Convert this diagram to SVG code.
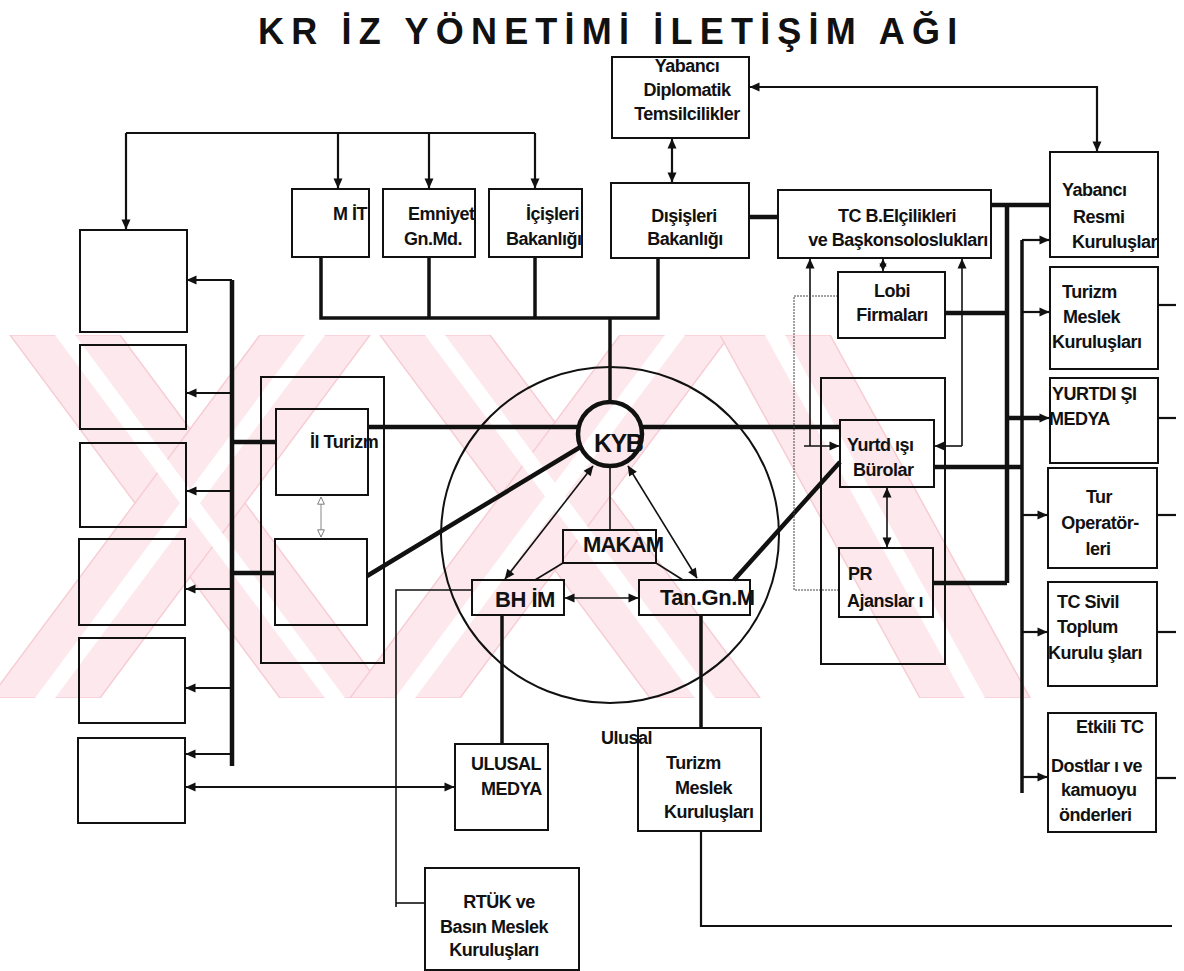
<svg xmlns="http://www.w3.org/2000/svg" width="1184" height="971" viewBox="0 0 1184 971">
<defs>
  <style>
    .box{fill:none;stroke:#111;stroke-width:2}
    .t{font-family:"Liberation Sans",Arial,sans-serif;font-weight:bold;font-size:18px;fill:#111;letter-spacing:-0.5px}
    .c{text-anchor:middle}
    .l1{fill:none;stroke:#111;stroke-width:1.6}
    .l2{fill:none;stroke:#111;stroke-width:2.2}
    .l3{fill:none;stroke:#111;stroke-width:3.5}
    .l4{fill:none;stroke:#111;stroke-width:4.5}
    .dot{fill:none;stroke:#444;stroke-width:1;stroke-dasharray:2 1}
    .wm{fill:#fde9ed;stroke:#f7cdd4;stroke-width:1.5}
    .wg{fill:#fff}
  </style>
  <marker id="ah" viewBox="0 0 10 10" refX="9.5" refY="5" markerWidth="11" markerHeight="10" markerUnits="userSpaceOnUse" orient="auto-start-reverse">
    <path d="M0,0.5 L10,5 L0,9.5 z" fill="#111"/>
  </marker>
  <marker id="ahs" viewBox="0 0 10 10" refX="9.5" refY="5" markerWidth="8" markerHeight="8" markerUnits="userSpaceOnUse" orient="auto-start-reverse">
    <path d="M0,0.5 L10,5 L0,9.5 z" fill="#111"/>
  </marker>
  <marker id="ahg" viewBox="0 0 10 10" refX="9.5" refY="5" markerWidth="9" markerHeight="8" markerUnits="userSpaceOnUse" orient="auto-start-reverse">
    <path d="M0.5,0.8 L9.5,5 L0.5,9.2 z" fill="#fff" stroke="#777" stroke-width="1.2"/>
  </marker>
  <clipPath id="band"><rect x="0" y="335" width="1184" height="363"/></clipPath>
</defs>

<rect width="1184" height="971" fill="#fff"/>

<!-- pale pink watermark band: three large hollow crosses -->
<g id="watermark" clip-path="url(#band)">
  <polygon class="wm" points="10,335 120,335 390,698 280,698"/>
  <polygon class="wm" points="260,335 370,335 100,698 -10,698"/>
  <polygon class="wm" points="380,335 490,335 760,698 650,698"/>
  <polygon class="wm" points="620,335 730,335 460,698 350,698"/>
  <polygon class="wm" points="720,335 830,335 1030,698 920,698"/>
  <polygon class="wg" points="55,335 75,335 345,698 325,698"/>
  <polygon class="wg" points="305,335 325,335 55,698 35,698"/>
  <polygon class="wg" points="425,335 445,335 715,698 695,698"/>
  <polygon class="wg" points="665,335 685,335 415,698 395,698"/>
  <polygon class="wg" points="765,335 785,335 985,698 965,698"/>
</g>

<!-- title -->
<text x="258" y="44" style="font-family:'Liberation Sans',Arial,sans-serif;font-weight:bold;font-size:36px;letter-spacing:7.2px;fill:#111">KR İZ YÖNETİMİ İLETİŞİM AĞI</text>

<!-- connectors -->
<g id="connectors">
  <!-- top distribution line -->
  <path class="l2" d="M126,133 H535"/>
  <path class="l2" d="M126,133 V229" marker-end="url(#ah)"/>
  <path class="l2" d="M338,133 V188" marker-end="url(#ah)"/>
  <path class="l2" d="M429,133 V188" marker-end="url(#ah)"/>
  <path class="l2" d="M535,133 V188" marker-end="url(#ah)"/>

  <!-- foreign diplomatic links -->
  <path class="l2" d="M1097,151 V87 H750" marker-start="url(#ah)" marker-end="url(#ah)"/>
  <path class="l2" d="M672,139 V182" marker-start="url(#ah)" marker-end="url(#ah)"/>
  <path class="l4" d="M750,217 H778"/>

  <!-- ministries bus -->
  <path class="l3" d="M321,257 V318 H658 V258"/>
  <path class="l3" d="M429,257 V318"/>
  <path class="l3" d="M535,257 V318"/>
  <path class="l3" d="M610,318 V402"/>

  <!-- left bus -->
  <path class="l4" d="M232,280 V766"/>
  <path class="l2" d="M232,280 H187" marker-end="url(#ah)"/>
  <path class="l2" d="M232,393 H187" marker-end="url(#ah)"/>
  <path class="l2" d="M232,491 H187" marker-end="url(#ah)"/>
  <path class="l2" d="M232,589 H186" marker-end="url(#ah)"/>
  <path class="l2" d="M232,688 H186" marker-end="url(#ah)"/>
  <path class="l2" d="M232,754 H186" marker-end="url(#ah)"/>
  <path class="l2" d="M186,787 H454" marker-start="url(#ah)" marker-end="url(#ah)"/>

  <!-- provincial tourism -->
  <path class="l4" d="M232,442 H276"/>
  <path class="l4" d="M232,573 H275"/>
  <path fill="none" stroke="#888" stroke-width="1" d="M321,497 V537" marker-start="url(#ahg)" marker-end="url(#ahg)"/>
  <path class="l4" d="M368,427 H579"/>
  <path class="l4" d="M367,576 L582,446"/>

  <!-- KYB links -->
  <path class="l4" d="M642,427 H840"/>
  <path class="l4" d="M734,580 L840,462"/>
  <path class="l1" d="M610,467 V530"/>
  <path class="l1" d="M593,466 L505,579" marker-start="url(#ah)" marker-end="url(#ah)"/>
  <path class="l1" d="M628,466 L697,578" marker-start="url(#ah)" marker-end="url(#ah)"/>
  <path class="l1" d="M563,563 L535,580"/>
  <path class="l1" d="M656,563 L683,580"/>
  <path class="l1" d="M565,598 H638" marker-start="url(#ah)" marker-end="url(#ah)"/>
  <path class="l3" d="M502,615 V744"/>
  <path class="l3" d="M701,615 V728"/>
  <path class="l1" d="M472,590 H396 V907"/>
  <path class="l1" d="M396,903 H425"/>
  <path class="l2" d="M701,831 V926 H1172"/>

  <!-- right side -->
  <path class="l4" d="M992,205 H1050"/>
  <path class="l4" d="M1007,205 V583"/>
  <path class="l4" d="M945,313 H1007"/>
  <path class="l4" d="M933,583 H1007"/>
  <path class="l4" d="M934,467 H1022"/>
  <path class="l3" d="M1022,240 V793"/>
  <path class="l2" d="M1022,240 H1049" marker-end="url(#ah)"/>
  <path class="l2" d="M1022,312 H1049" marker-end="url(#ah)"/>
  <path class="l4" d="M1007,418 H1040"/>
  <path class="l2" d="M1030,418 H1049" marker-end="url(#ah)"/>
  <path class="l2" d="M1022,515 H1047" marker-end="url(#ah)"/>
  <path class="l2" d="M1022,632 H1047" marker-end="url(#ah)"/>
  <path class="l2" d="M1022,777 H1047" marker-end="url(#ah)"/>
  <path class="l2" d="M1158,305 H1176"/>
  <path class="l2" d="M1158,418 H1176"/>
  <path class="l2" d="M1157,515 H1176"/>
  <path class="l2" d="M1157,632 H1176"/>
  <path class="l2" d="M1157,778 H1176"/>

  <path class="l1" d="M883,259 V271" marker-start="url(#ahs)" marker-end="url(#ahs)"/>
  <path class="l1" d="M810,446 V259" marker-end="url(#ah)"/>
  <path class="l1" d="M804,446 H839" marker-end="url(#ah)"/>
  <path class="l1" d="M962,446 V259" marker-end="url(#ah)"/>
  <path class="l1" d="M962,446 H935" marker-end="url(#ah)"/>
  <path class="dot" d="M838,296 H794 V590 H839"/>
  <path class="l1" d="M887,488 V547" marker-start="url(#ah)" marker-end="url(#ah)"/>
</g>

<!-- nodes -->
<g id="yabanci-diplomatik">
  <rect class="box" x="612" y="57" width="137" height="81"/>
  <text class="t c" x="687" y="72">Yabancı</text>
  <text class="t c" x="687" y="96">Diplomatik</text>
  <text class="t c" x="687" y="120">Temsilcilikler</text>
</g>
<g id="mit">
  <rect class="box" x="292" y="189" width="77" height="68"/>
  <text class="t" x="333" y="220">M İT</text>
</g>
<g id="emniyet">
  <rect class="box" x="383" y="189" width="92" height="68"/>
  <text class="t" x="408" y="220">Emniyet</text>
  <text class="t" x="404" y="245">Gn.Md.</text>
</g>
<g id="icisleri">
  <rect class="box" x="489" y="189" width="93" height="68"/>
  <text class="t" x="526" y="220">İçişleri</text>
  <text class="t" x="506" y="245">Bakanlığı</text>
</g>
<g id="disisleri">
  <rect class="box" x="611" y="183" width="138" height="75"/>
  <text class="t c" x="684" y="222">Dışişleri</text>
  <text class="t c" x="685" y="245">Bakanlığı</text>
</g>
<g id="tc-elcilikler">
  <rect class="box" x="778" y="190" width="213" height="68"/>
  <text class="t c" x="897" y="222">TC B.Elçilikleri</text>
  <text class="t c" x="898" y="246">ve Başkonsoloslukları</text>
</g>
<g id="lobi">
  <rect class="box" x="838" y="272" width="107" height="66"/>
  <text class="t c" x="892" y="297">Lobi</text>
  <text class="t c" x="892" y="321">Firmaları</text>
</g>

<g id="left-boxes">
  <rect class="box" x="80" y="230" width="107" height="102"/>
  <rect class="box" x="80" y="345" width="106" height="84"/>
  <rect class="box" x="80" y="443" width="106" height="84"/>
  <rect class="box" x="79" y="539" width="106" height="86"/>
  <rect class="box" x="79" y="638" width="106" height="85"/>
  <rect class="box" x="78" y="738" width="107" height="85"/>
</g>

<g id="il-turizm">
  <rect class="box" x="261" y="377" width="123" height="286"/>
  <rect class="box" x="276" y="409" width="92" height="86"/>
  <text class="t" x="310" y="448">İl Turizm</text>
  <rect class="box" x="275" y="539" width="92" height="86"/>
</g>

<g id="kye-cember">
  <ellipse cx="610" cy="535" rx="169" ry="168" fill="none" stroke="#111" stroke-width="2"/>
</g>
<g id="kyb">
  <circle cx="610" cy="434" r="32" fill="none" stroke="#111" stroke-width="4.5"/>
  <text class="t" x="594" y="452" style="font-size:25px;letter-spacing:-1.5px">KYB</text>
</g>
<g id="makam">
  <rect class="box" x="563" y="530" width="93" height="33"/>
  <text class="t" x="583" y="552" style="font-size:22px;letter-spacing:-0.8px">MAKAM</text>
</g>
<g id="bhim">
  <rect class="box" x="472" y="580" width="92" height="35"/>
  <text class="t" x="495" y="607" style="font-size:22px;letter-spacing:-0.5px">BH İM</text>
</g>
<g id="tan-gn-m">
  <rect class="box" x="639" y="580" width="111" height="35"/>
  <text class="t" x="660" y="605" style="font-size:22px;letter-spacing:-0.5px">Tan.Gn.M</text>
</g>

<g id="ulusal-medya">
  <rect class="box" x="455" y="744" width="93" height="86"/>
  <text class="t" x="471" y="770">ULUSAL</text>
  <text class="t" x="481" y="795">MEDYA</text>
</g>
<g id="rtuk">
  <rect class="box" x="425" y="868" width="154" height="102"/>
  <text class="t c" x="499" y="908">RTÜK ve</text>
  <text class="t c" x="494" y="933">Basın Meslek</text>
  <text class="t c" x="494" y="956">Kuruluşları</text>
</g>
<g id="ulusal-turizm">
  <rect class="box" x="638" y="728" width="123" height="103"/>
  <text class="t" x="601" y="744">Ulusal</text>
  <text class="t" x="666" y="769">Turizm</text>
  <text class="t" x="675" y="794">Meslek</text>
  <text class="t" x="664" y="818">Kuruluşları</text>
</g>

<g id="yurtdisi">
  <rect class="box" x="821" y="378" width="124" height="286"/>
  <rect class="box" x="840" y="420" width="94" height="67"/>
  <text class="t" x="847" y="451">Yurtd ışı</text>
  <text class="t" x="853" y="476">Bürolar</text>
  <rect class="box" x="839" y="548" width="94" height="69"/>
  <text class="t" x="848" y="580">PR</text>
  <text class="t" x="847" y="607">Ajanslar ı</text>
</g>

<g id="yabanci-resmi">
  <rect class="box" x="1050" y="152" width="108" height="105"/>
  <text class="t" x="1062" y="196">Yabancı</text>
  <text class="t" x="1073" y="223">Resmi</text>
  <text class="t" x="1072" y="248">Kuruluşlar</text>
</g>
<g id="turizm-meslek">
  <rect class="box" x="1050" y="267" width="108" height="102"/>
  <text class="t" x="1062" y="298">Turizm</text>
  <text class="t" x="1063" y="323">Meslek</text>
  <text class="t" x="1052" y="348">Kuruluşları</text>
</g>
<g id="yurtdisi-medya">
  <rect class="box" x="1050" y="378" width="108" height="85"/>
  <text class="t" x="1052" y="400">YURTDI ŞI</text>
  <text class="t" x="1049" y="425">MEDYA</text>
</g>
<g id="tur-operatorleri">
  <rect class="box" x="1048" y="468" width="109" height="100"/>
  <text class="t c" x="1099" y="503">Tur</text>
  <text class="t c" x="1100" y="529">Operatör-</text>
  <text class="t c" x="1098" y="555">leri</text>
</g>
<g id="tc-sivil">
  <rect class="box" x="1048" y="582" width="109" height="104"/>
  <text class="t" x="1057" y="608">TC Sivil</text>
  <text class="t" x="1057" y="633">Toplum</text>
  <text class="t" x="1048" y="659">Kurulu şları</text>
</g>
<g id="etkili-tc">
  <rect class="box" x="1048" y="713" width="108" height="119"/>
  <text class="t" x="1076" y="733">Etkili TC</text>
  <text class="t" x="1051" y="772">Dostlar ı ve</text>
  <text class="t" x="1061" y="796">kamuoyu</text>
  <text class="t" x="1059" y="821">önderleri</text>
</g>
</svg>
